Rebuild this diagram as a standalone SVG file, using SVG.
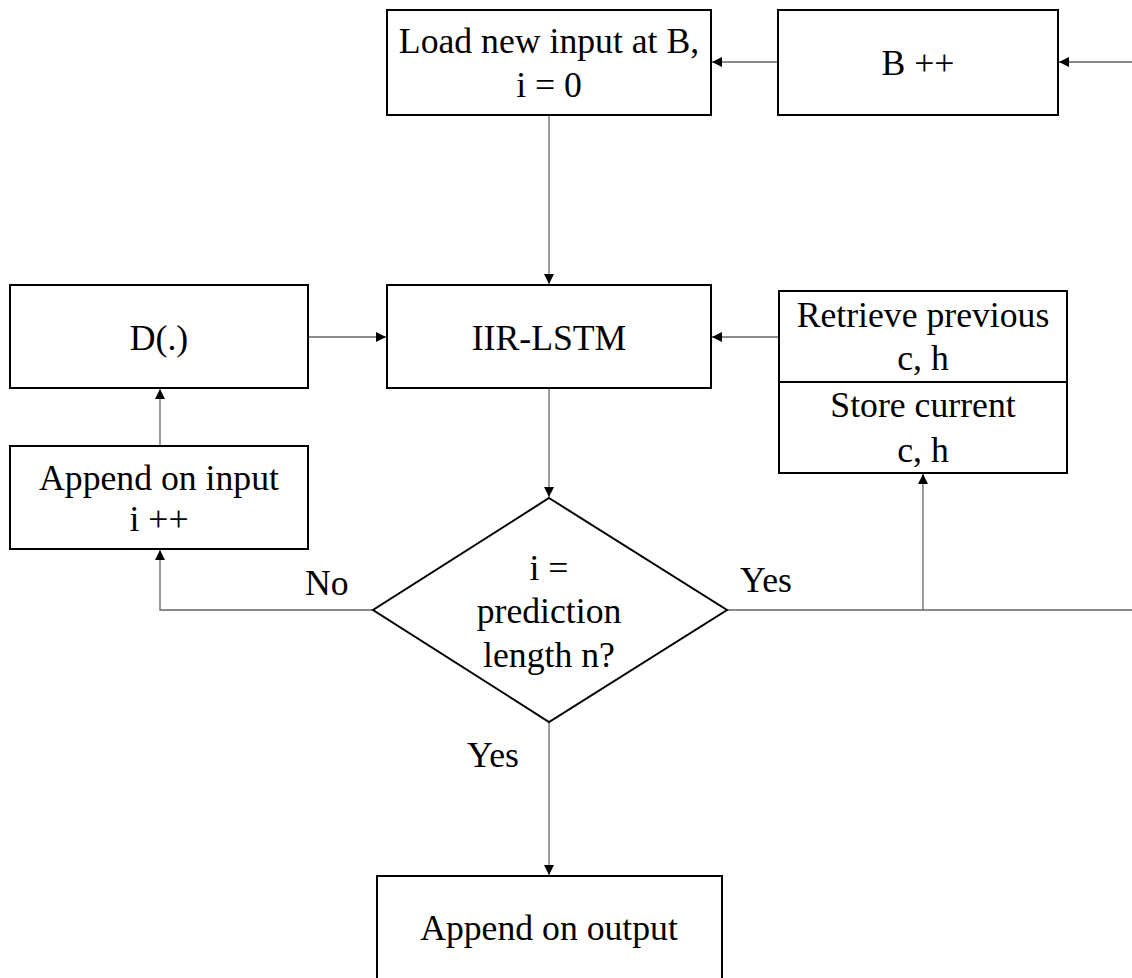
<svg xmlns="http://www.w3.org/2000/svg" width="1132" height="978" viewBox="0 0 1132 978">
<style>
.box{fill:#fff;stroke:#000;stroke-width:2}
.t{font-family:"Liberation Serif","Times New Roman",serif;font-size:35.7px;fill:#000;text-anchor:middle}
.lbl{font-family:"Liberation Serif","Times New Roman",serif;font-size:35.7px;fill:#000}
.c{fill:none;stroke:#666;stroke-width:1.3}
</style>
<defs>
<marker id="ah" viewBox="0 0 10 10" refX="10" refY="5" markerWidth="10" markerHeight="10" markerUnits="userSpaceOnUse" orient="auto">
<path d="M0,0 L10,5 L0,10 Z" fill="#000"/>
</marker>
</defs>
<rect width="1132" height="978" fill="#fff"/>
<g id="connectors">
<line class="c" x1="1132" y1="62" x2="1059" y2="62" marker-end="url(#ah)"/>
<line class="c" x1="778" y1="62" x2="712" y2="62" marker-end="url(#ah)"/>
<line class="c" x1="549" y1="116" x2="549" y2="284" marker-end="url(#ah)"/>
<line class="c" x1="308" y1="337" x2="386" y2="337" marker-end="url(#ah)"/>
<line class="c" x1="779" y1="337" x2="712" y2="337" marker-end="url(#ah)"/>
<line class="c" x1="549" y1="388" x2="549" y2="497" marker-end="url(#ah)"/>
<line class="c" x1="160" y1="446" x2="160" y2="389" marker-end="url(#ah)"/>
<polyline class="c" points="373,610 160,610 160,550" marker-end="url(#ah)"/>
<line class="c" x1="727" y1="610" x2="1132" y2="610"/>
<line class="c" x1="923" y1="610" x2="923" y2="474" marker-end="url(#ah)"/>
<line class="c" x1="549" y1="722" x2="549" y2="875" marker-end="url(#ah)"/>
</g>
<g id="load">
<rect class="box" x="387" y="10" width="324" height="105"/>
<text class="t" x="549" y="53">Load new input at B,</text>
<text class="t" x="549" y="97">i = 0</text>
</g>
<g id="bpp">
<rect class="box" x="778" y="10" width="280" height="105"/>
<text class="t" x="918" y="75">B ++</text>
</g>
<g id="d">
<rect class="box" x="10" y="285" width="298" height="103"/>
<text class="t" x="159" y="350">D(.)</text>
</g>
<g id="iir">
<rect class="box" x="387" y="285" width="324" height="103"/>
<text class="t" x="549" y="350">IIR-LSTM</text>
</g>
<g id="state">
<rect class="box" x="779" y="291" width="288" height="182"/>
<line x1="779" y1="382" x2="1067" y2="382" stroke="#000" stroke-width="2"/>
<text class="t" x="923" y="327">Retrieve previous</text>
<text class="t" x="923" y="370">c, h</text>
<text class="t" x="923" y="417">Store current</text>
<text class="t" x="923" y="462">c, h</text>
</g>
<g id="append-in">
<rect class="box" x="10" y="446" width="298" height="103"/>
<text class="t" x="159" y="490">Append on input</text>
<text class="t" x="159" y="531">i ++</text>
</g>
<g id="decision">
<polygon class="box" points="549,498 727,610 549,722 373,610"/>
<text class="t" x="549" y="580">i =</text>
<text class="t" x="549" y="623">prediction</text>
<text class="t" x="549" y="667">length n?</text>
</g>
<g id="append-out">
<rect class="box" x="377" y="876" width="345" height="120"/>
<text class="t" x="549" y="940">Append on output</text>
</g>
<g id="labels">
<text class="lbl" x="305" y="595">No</text>
<text class="lbl" x="740" y="592">Yes</text>
<text class="lbl" x="467" y="767">Yes</text>
</g>
</svg>
